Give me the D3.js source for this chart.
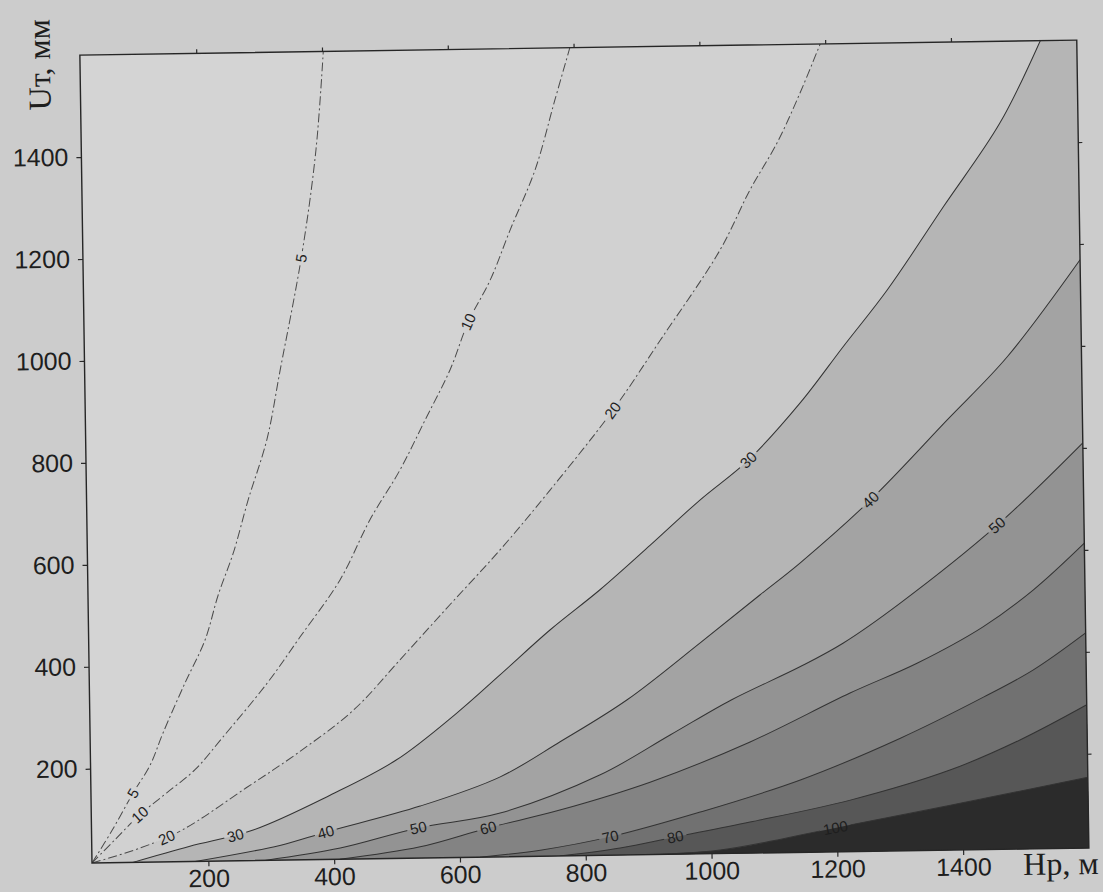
<!DOCTYPE html>
<html>
<head>
<meta charset="utf-8">
<script src="https://cdnjs.cloudflare.com/ajax/libs/d3/7.8.5/d3.min.js"></script>
<style>
  html, body { margin: 0; padding: 0; background: #cccccc; }
  svg { display: block; }
  .tick text { font-family: "Liberation Sans", Arial, sans-serif; font-size: 25px; fill: #1e1e1e; }
  .tick line { stroke: #2a2a2a; stroke-width: 1.2px; }
  .clabel { font-family: "Liberation Sans", Arial, sans-serif; font-size: 15px; fill: #1e1e1e; }
  .atitle { font-family: "Liberation Serif", "Times New Roman", serif; font-size: 32px; fill: #1e1e1e; }
</style>
</head>
<body>
<div id="chart"></div>
<script>
// contour levels, Hp (m) vs Ut (mm)
const levels = [5, 10, 20, 30, 40, 50, 60, 70, 80, 100];

// each contour: [Hp, Ut] from bottom edge to top/right edge
const contour5 = [[15,15],[48,79],[82,151],[110,206],[131,268],[167,365],[200,449],[222,537],[247,619],[272,723],[303,840],[326,977],[363,1202],[388,1407],[402,1600]];
const contour10 = [[15,15],[52,60],[92,108],[135,150],[181,195],[226,258],[298,363],[351,452],[416,563],[465,680],[514,777],[555,874],[596,972],[626,1065],[662,1147],[695,1245],[736,1362],[769,1498],[794,1600]];
const contour20 = [[15,15],[92,43],[159,77],[262,158],[345,225],[435,308],[509,404],[590,511],[671,617],[752,733],[854,888],[931,1024],[1028,1199],[1077,1316],[1121,1407],[1159,1505],[1192,1600]];
const contour30 = [[80,15],[171,45],[272,75],[395,141],[501,208],[597,297],[668,372],[749,459],[829,536],[910,622],[990,709],[1068,786],[1152,897],[1221,1005],[1293,1116],[1384,1277],[1476,1440],[1542,1600]];
const contour40 = [[179,15],[314,44],[388,69],[538,117],[666,172],[762,239],[869,319],[987,429],[1083,521],[1148,583],[1261,704],[1385,859],[1482,981],[1600,1169]];
const contour50 = [[290,15],[410,37],[534,74],[665,101],[825,173],[937,249],[1035,316],[1145,379],[1214,424],[1306,501],[1462,651],[1600,810]];
const contour60 = [[409,15],[537,37],[645,72],[760,105],[904,157],[1064,233],[1224,326],[1332,383],[1437,452],[1518,523],[1600,613]];
const contour70 = [[632,15],[728,27],[839,51],[983,97],[1143,157],[1303,236],[1436,314],[1516,366],[1600,437]];
const contour80 = [[759,15],[855,29],[943,49],[1062,76],[1222,116],[1381,172],[1493,229],[1600,296]];
const contour100 = [[878,15],[1014,22],[1197,62],[1381,103],[1600,154]];

// inline labels: [level, Hp, Ut]
const contourLabels = [
  [5, 360, 1196], [5, 82, 151],
  [10, 626, 1065], [10, 92, 108],
  [20, 854, 888], [20, 132, 72],
  [30, 1068, 786], [30, 243, 70],
  [40, 1261, 704], [40, 388, 69],
  [50, 1462, 651], [50, 534, 74],
  [60, 645, 72], [70, 839, 51], [80, 943, 49], [100, 1197, 62]
];

const xTicks = [200, 400, 600, 800, 1000, 1200, 1400];
const yTicks = [200, 400, 600, 800, 1000, 1200, 1400];

const contours = {5: contour5, 10: contour10, 20: contour20, 30: contour30, 40: contour40,
  50: contour50, 60: contour60, 70: contour70, 80: contour80, 100: contour100};

// fill of the area above each level
const bandFill = ['#d3d3d3', '#d1d1d1', '#c9c9c9', '#b5b5b5', '#a3a3a3', '#939393', '#838383', '#717171', '#575757', '#2b2b2b'];

const width = 1103, height = 892;
const pLeft = 92, pRight = 1089, pTop = 55, pBottom = 863;

const x = d3.scaleLinear().domain([15, 1600]).range([pLeft, pRight]);
const y = d3.scaleLinear().domain([15, 1600]).range([pBottom, pTop]);
const fmt = d3.format('d');

const svg = d3.select('#chart').append('svg')
  .attr('width', width)
  .attr('height', height);

svg.append('rect').attr('width', width).attr('height', height).attr('fill', '#cccccc');

// the scanned page is slightly tilted
const g = svg.append('g').attr('transform', `rotate(-0.86,${pLeft},${pBottom})`);

const defs = g.append('defs');
defs.append('clipPath').attr('id', 'plotClip')
  .append('rect').attr('x', pLeft).attr('y', pTop).attr('width', pRight - pLeft).attr('height', pBottom - pTop);

const plot = g.append('g').attr('clip-path', 'url(#plotClip)');
plot.append('rect')
  .attr('x', pLeft).attr('y', pTop).attr('width', pRight - pLeft).attr('height', pBottom - pTop)
  .attr('fill', '#d4d4d4');

const line = d3.line()
  .x(d => x(d[0]))
  .y(d => y(d[1]))
  .curve(d3.curveCatmullRom.alpha(0.5));

// filled bands: paint region above each level, light to dark
levels.forEach((lv, i) => {
  const pts = contours[lv];
  const last = pts[pts.length - 1];
  const closing = [];
  if (last[0] < 1600) closing.push([1700, 1700]);
  closing.push([1700, -100]);
  const d = line(pts) + closing.map(p => `L${x(p[0])},${y(p[1])}`).join('') + 'Z';
  plot.append('path').attr('d', d).attr('fill', bandFill[i]);
});

// mask for the gaps under labels
const mask = defs.append('mask').attr('id', 'gapMask')
  .attr('maskUnits', 'userSpaceOnUse')
  .attr('x', -100).attr('y', -100).attr('width', width + 200).attr('height', height + 200);
mask.append('rect').attr('x', -100).attr('y', -100).attr('width', width + 200).attr('height', height + 200).attr('fill', 'white');

const linesG = plot.append('g').attr('mask', 'url(#gapMask)');
const paths = {};
levels.forEach(lv => {
  paths[lv] = linesG.append('path')
    .attr('d', line(contours[lv]))
    .attr('fill', 'none')
    .attr('stroke', lv <= 20 ? '#4a4a4a' : '#333')
    .attr('stroke-width', 1)
    .attr('stroke-dasharray', lv <= 20 ? '9 3 2 3' : null);
});

// labels along the lines
const labelG = plot.append('g');
contourLabels.forEach(([lv, h, u]) => {
  const node = paths[lv].node();
  const total = node.getTotalLength();
  const tx = x(h), ty = y(u);
  let best = 0, bestD = Infinity;
  for (let l = 0; l <= total; l += 1) {
    const p = node.getPointAtLength(l);
    const dd = (p.x - tx) ** 2 + (p.y - ty) ** 2;
    if (dd < bestD) { bestD = dd; best = l; }
  }
  const p = node.getPointAtLength(best);
  const p0 = node.getPointAtLength(Math.max(0, best - 4));
  const p1 = node.getPointAtLength(Math.min(total, best + 4));
  let ang = Math.atan2(p1.y - p0.y, p1.x - p0.x) * 180 / Math.PI;
  if (ang > 90) ang -= 180;
  if (ang < -90) ang += 180;

  const t = labelG.append('text')
    .attr('class', 'clabel')
    .attr('text-anchor', 'middle')
    .attr('dy', '0.35em')
    .attr('transform', `translate(${p.x},${p.y}) rotate(${ang})`)
    .text(lv);
  const w = t.node().getComputedTextLength() + 6;
  mask.append('rect')
    .attr('x', -w / 2).attr('y', -7).attr('width', w).attr('height', 14)
    .attr('transform', `translate(${p.x},${p.y}) rotate(${ang})`)
    .attr('fill', 'black');
});

// axes
const yAxis = g.append('g')
  .attr('transform', `translate(${pLeft},0)`)
  .call(d3.axisLeft(y).tickValues(yTicks).tickFormat(fmt).tickSize(5).tickPadding(8));
yAxis.select('.domain').remove();

const xAxis = g.append('g')
  .attr('transform', `translate(0,${pBottom})`)
  .call(d3.axisBottom(x).tickValues(xTicks).tickFormat(fmt).tickSize(5).tickPadding(3));
xAxis.select('.domain').remove();

const topAxis = g.append('g')
  .attr('transform', `translate(0,${pTop})`)
  .call(d3.axisTop(x).tickValues(xTicks).tickSize(4).tickFormat(''));
topAxis.select('.domain').remove();

const rightAxis = g.append('g')
  .attr('transform', `translate(${pRight},0)`)
  .call(d3.axisRight(y).tickValues(yTicks).tickSize(4).tickFormat(''));
rightAxis.select('.domain').remove();

// frame
g.append('rect')
  .attr('x', pLeft).attr('y', pTop).attr('width', pRight - pLeft).attr('height', pBottom - pTop)
  .attr('fill', 'none')
  .attr('stroke', '#262626')
  .attr('stroke-width', 1.4);

// axis titles
g.append('text')
  .attr('class', 'atitle')
  .attr('text-anchor', 'middle')
  .attr('transform', 'translate(62,64) rotate(-90)')
  .text('Uт, мм');

g.append('text')
  .attr('class', 'atitle')
  .attr('x', 1023)
  .attr('y', 889)
  .text('Нр, м');
</script>
</body>
</html>
